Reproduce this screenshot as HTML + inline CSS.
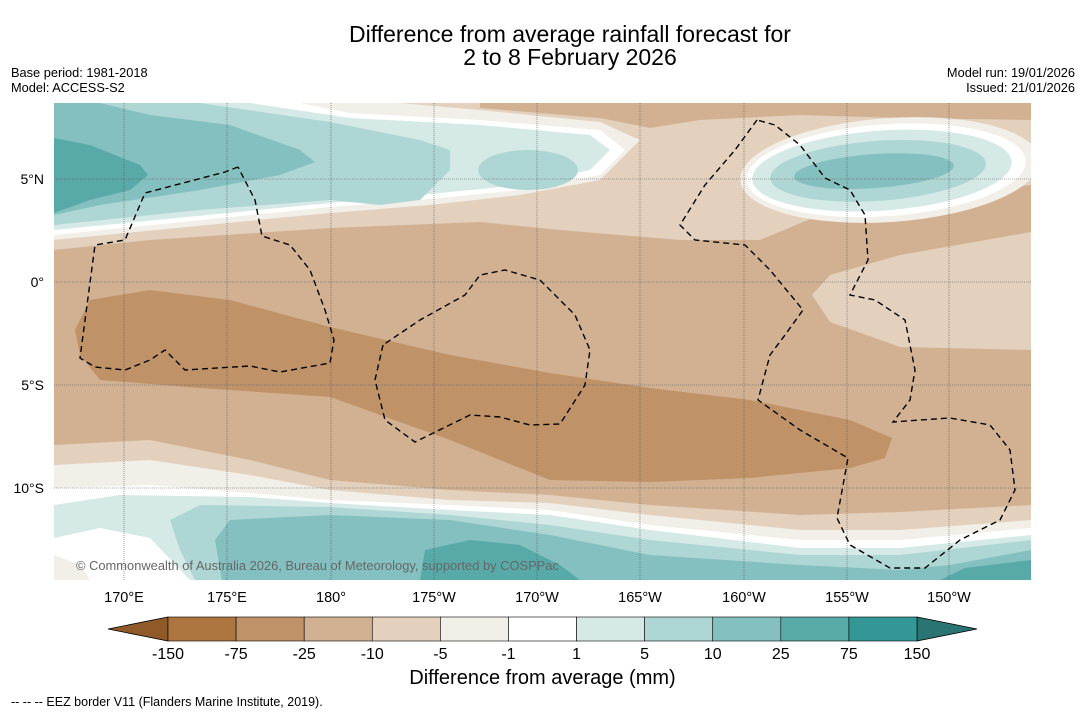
<!DOCTYPE html>
<html><head><meta charset="utf-8"><style>
body{margin:0;background:#fff;font-family:"Liberation Sans",sans-serif}
#root{position:relative;width:1085px;height:713px;overflow:hidden;background:#fff}
.t{position:absolute;color:#000;white-space:nowrap}
</style></head><body>
<div id="root">
<div class="t" style="left:0;width:1140px;top:23px;text-align:center;font-size:23px;line-height:23px">Difference from average rainfall forecast for<br>2 to 8 February 2026</div>
<div class="t" style="left:11px;top:65px;font-size:12.8px;line-height:15px">Base period: 1981-2018<br>Model: ACCESS-S2</div>
<div class="t" style="right:10px;top:65px;font-size:12.8px;line-height:15px;text-align:right">Model run: 19/01/2026<br>Issued: 21/01/2026</div>
<svg id="svg" width="1085" height="713" style="position:absolute;left:0;top:0">
<defs><clipPath id="mc"><rect x="54" y="103" width="977" height="477"/></clipPath></defs>
<g id="map" clip-path="url(#mc)"></g>
<g id="cbar"></g>
</svg>
<div class="t" style="left:76px;top:558px;font-size:12.9px;color:#666">© Commonwealth of Australia 2026, Bureau of Meteorology, supported by COSPPac</div>
<div class="t" style="left:0;width:1085px;text-align:center;top:667px;font-size:20px">Difference from average (mm)</div>
<div class="t" style="left:11px;top:695px;font-size:12.5px">--  --  -- EEZ border V11 (Flanders Marine Institute, 2019).</div>
</div>
<script>
const levels=["-150","-75","-25","-10","-5","-1","1","5","10","25","75","150"];
const colors=["#ad7540","#c09268","#d2b192","#e3d0bd","#f2eee8","#ffffff","#d5e9e7","#aed6d4","#84c0bf","#58aaa9","#339796"];
const lonLabels=["170°E","175°E","180°","175°W","170°W","165°W","160°W","155°W","150°W"];
const latLabels=["5°N","0°","5°S","10°S"];
const NS="http://www.w3.org/2000/svg";
const map=document.getElementById('map'),cb=document.getElementById('cbar'),svg=document.getElementById('svg');
function el(p,tag,a){const e=document.createElementNS(NS,tag);for(const k in a)e.setAttribute(k,a[k]);p.appendChild(e);return e;}
function poly(pts,fill,name){const e=el(map,'polygon',{points:pts.map(p=>p.join(',')).join(' '),fill:fill});

}
function topP(c){return [[54,103]].concat(c,[[1031,103]]);}
function botP(c){return c.concat([[1031,580],[54,580]]);}
poly([[54,103],[1031,103],[1031,580],[54,580]],colors[2],'band-minus25');
poly(topP([[54,250],[150,240],[330,228],[480,222],[560,230],[680,240],[760,240],[820,215],[920,200],[1031,185],[1031,103]]),colors[3],'band-minus10-north');
poly([[480,103],[1031,103],[1031,120],[900,118],[800,115],[700,120],[650,128],[600,118],[480,108]],colors[2],'band-minus25-top');
poly([[54,103],[400,103],[480,110],[600,122],[640,140],[600,180],[520,195],[430,205],[330,213],[54,240]],colors[4],'band-minus5-north');
poly([[54,103],[300,103],[350,113],[480,120],[600,130],[625,150],[600,175],[520,190],[420,200],[330,207],[54,235]],colors[5],'band-zero-north');
poly([[54,103],[250,103],[350,118],[480,125],[590,135],[610,150],[590,170],[520,185],[420,195],[330,203],[54,230]],colors[6],'band-plus1-north');
poly([[54,103],[200,103],[330,122],[420,140],[450,150],[450,170],[420,200],[380,205],[330,200],[200,210],[54,225]],colors[7],'band-plus5-north');
el(map,'ellipse',{cx:528,cy:170,rx:50,ry:20,fill:colors[7]});
poly([[54,103],[100,103],[150,115],[230,125],[300,150],[315,162],[280,175],[200,190],[100,205],[54,215]],colors[8],'band-plus10-north');
poly([[54,138],[90,145],[140,165],[148,175],[130,190],[90,200],[54,213]],colors[9],'band-plus25-north');
[[150,52,4],[140,46,5],[130,40,6],[108,30,7],[80,17,8]].forEach((r,i)=>{el(map,'ellipse',{cx:890-i*4,cy:170,rx:r[0],ry:r[1],fill:colors[r[2]],transform:'rotate(-4 890 170)'});});
poly([[1031,232],[900,255],[830,275],[812,295],[830,322],[900,347],[1031,350]],colors[3],'band-minus10-east');
poly([[75,330],[90,300],[150,290],[230,300],[330,327],[450,355],[550,373],[650,388],[750,400],[850,420],[892,438],[885,458],[850,468],[750,478],[650,482],[550,480],[450,440],[330,397],[200,388],[100,380],[80,355]],colors[1],'band-minus75');
poly(botP([[54,445],[150,440],[250,460],[330,480],[450,490],[550,495],[650,505],[800,515],[900,512],[1031,505]]),colors[3],'band-minus10-south');
poly(botP([[54,465],[150,460],[250,475],[330,490],[450,500],[550,503],[650,515],[800,530],[900,530],[1031,520]]),colors[4],'band-minus5-south');
poly(botP([[54,488],[150,485],[250,493],[330,500],[450,505],[550,510],[650,525],[800,540],[900,540],[1031,528]]),colors[5],'band-zero-south');
poly(botP([[54,505],[120,495],[250,497],[330,503],[450,510],[550,515],[650,530],[800,548],[900,548],[1031,535]]),colors[6],'band-plus1-south');
poly([[54,538],[100,528],[150,538],[190,580],[54,580]],colors[5],'white-southwest');
poly([[54,555],[80,565],[90,580],[54,580]],colors[4],'offwhite-southwest');
poly([[170,520],[200,505],[330,507],[450,515],[550,525],[650,540],[800,555],[900,555],[1031,540],[1031,580],[195,580],[180,550]],colors[7],'band-plus5-south');
poly([[215,540],[230,520],[330,515],[450,520],[550,535],[650,555],[800,565],[900,570],[950,565],[1031,550],[1031,580],[222,580]],colors[8],'band-plus10-south');
poly([[420,580],[425,550],[470,540],[520,545],[560,565],[580,580]],colors[9],'band-plus25-south');
poly([[940,580],[965,568],[1031,560],[1031,580]],colors[9],'band-plus25-se');
const gx=[124,227,331,434,537,640,744,847,949],gy=[179,282,385,488];
gx.forEach(x=>el(map,'line',{x1:x,y1:103,x2:x,y2:580,stroke:'#555','stroke-width':0.6,'stroke-dasharray':'1,1'}));
gy.forEach(y=>el(map,'line',{x1:54,y1:y,x2:1031,y2:y,stroke:'#555','stroke-width':0.6,'stroke-dasharray':'1,1'}));
const eez=[[[238,167],[225,172],[145,193],[125,240],[95,245],[80,358],[95,367],[125,370],[150,360],[165,350],[185,370],[250,366],[280,372],[330,363],[334,340],[325,310],[310,270],[290,245],[262,236],[255,200],[238,167]],
[[383,345],[375,380],[385,420],[415,442],[470,415],[500,417],[530,425],[560,424],[585,385],[590,350],[575,315],[540,280],[505,270],[480,275],[465,295],[420,320],[383,345]],
[[757,120],[735,150],[705,185],[680,225],[695,240],[745,245],[770,270],[803,310],[785,335],[770,355],[758,400],[800,430],[848,458],[837,518],[850,545],[890,568],[925,568],[960,540],[1000,520],[1015,490],[1010,450],[990,425],[950,418],[920,420],[893,422],[910,400],[915,370],[905,320],[875,300],[850,295],[868,260],[865,215],[850,190],[825,178],[800,145],[775,125],[757,120]]];
eez.forEach(p=>{const e=el(map,'polyline',{points:p.map(q=>q.join(',')).join(' '),fill:'none',stroke:'#000','stroke-width':1.4,'stroke-dasharray':'6,4'});

});
lonLabels.forEach((s,i)=>{const t=el(svg,'text',{x:gx[i],y:602,'font-size':14.5,'text-anchor':'middle','font-family':'Liberation Sans'});t.textContent=s;

});
latLabels.forEach((s,i)=>{const t=el(svg,'text',{x:44,y:gy[i]+5,'font-size':14,'text-anchor':'end','font-family':'Liberation Sans'});t.textContent=s;

});
const x0=168,x1=917,y0=617,h=24,w=(x1-x0)/colors.length;
el(cb,'polygon',{points:`108,629 ${x0},${y0} ${x0},${y0+h}`,fill:'#8f5a28',stroke:'#000','stroke-width':0.8});
el(cb,'polygon',{points:`977,629 ${x1},${y0} ${x1},${y0+h}`,fill:'#2a7574',stroke:'#000','stroke-width':0.8});
colors.forEach((c,i)=>{const r=el(cb,'rect',{x:x0+i*w,y:y0,width:w,height:h,fill:c,stroke:'#000','stroke-width':0.6});

});
levels.forEach((s,i)=>{const t=el(cb,'text',{x:x0+i*w,y:659,'font-size':16,'text-anchor':'middle','font-family':'Liberation Sans'});t.textContent=s;

});
</script>
</body></html>
